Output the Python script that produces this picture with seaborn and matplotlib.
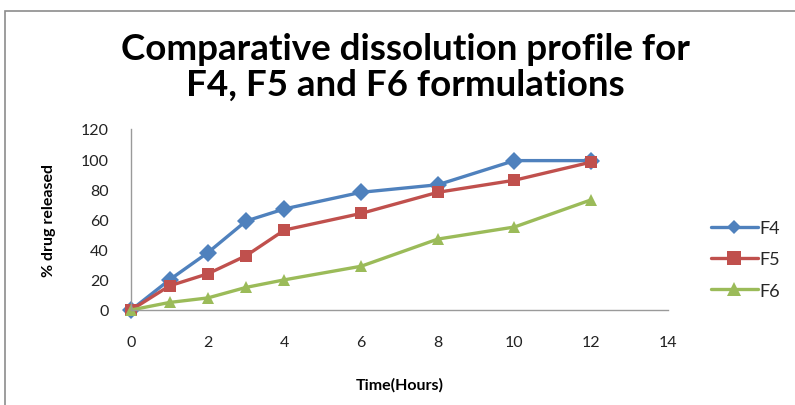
import matplotlib
matplotlib.use("Agg")
import matplotlib.pyplot as plt
import numpy as np
import pandas as pd
import seaborn as sns
from matplotlib.patches import Rectangle

# Dane
time_hours = [0, 1, 2, 3, 4, 6, 8, 10, 12]
f4_release = [0, 20, 38, 59, 67, 78, 83, 99, 99]
f5_release = [0, 16, 24, 36, 53, 64, 78, 86, 98]
f6_release = [0, 5, 8, 15, 20, 29, 47, 55, 73]
formulations = ["F4", "F5", "F6"]

data = pd.DataFrame({
    "time": time_hours * 3,
    "release": f4_release + f5_release + f6_release,
    "formulation": np.repeat(formulations, len(time_hours)),
})

sns.set_theme(style="white")
plt.rcParams['font.family'] = ['Lato', 'DejaVu Sans']

fig = plt.figure(figsize=(7.95, 4.06), dpi=100)
ax = fig.add_axes([0.165, 0.234, 0.675, 0.446])

palette = {"F4": "#4F81BD", "F5": "#C0504D", "F6": "#9BBB59"}
markers = {"F4": "D", "F5": "s", "F6": "^"}
sizes = {"F4": 7.5, "F5": 10, "F6": 10}

sns.lineplot(data=data, x="time", y="release", hue="formulation", style="formulation",
             palette=palette, markers=markers, dashes=False, linewidth=2.4,
             markersize=9, markeredgewidth=0, ax=ax)

# Dopasowanie rozmiarów markerów
for line in ax.get_lines():
    lbl = line.get_label()
    if lbl in sizes:
        line.set_markersize(sizes[lbl])
    line.set_clip_on(False)

ax.set_xlim(0, 14)
ax.set_ylim(0, 120)
ax.set_xticks(range(0, 15, 2))
ax.set_yticks(range(0, 121, 20))
ax.tick_params(axis='x', labelsize=11.5, length=0, pad=18, colors="#222222")
ax.tick_params(axis='y', labelsize=11.5, length=0, pad=16, colors="#222222")
for side in ['top', 'right']:
    ax.spines[side].set_visible(False)
for side in ['left', 'bottom']:
    ax.spines[side].set_color("#9a9a9a")
    ax.spines[side].set_linewidth(1.0)

ax.set_xlabel("Time(Hours)", fontsize=11.5, fontweight='bold', labelpad=20, color="black")
ax.set_ylabel("% drug released", fontsize=11.5, fontweight='bold', labelpad=18, color="black")

handles, labels = ax.get_legend_handles_labels()
for h in handles:
    lbl = h.get_label()
    if lbl in sizes:
        h.set_markersize(sizes[lbl])
ax.legend(handles, labels, loc='center left', bbox_to_anchor=(1.05, 0.28), frameon=False,
          fontsize=13, handlelength=2.6, labelspacing=0.85, handletextpad=0.1)

fig.text(0.51, 0.835, "Comparative dissolution profile for\nF4, F5 and F6 formulations",
         ha='center', va='center', fontsize=26.5, fontweight='bold', linespacing=1.1,
         color="black")

# Ramka wokół wykresu
fig.patches.append(Rectangle((0.006, -0.05), 1.2, 1.02, transform=fig.transFigure,
                             fill=False, edgecolor="#8c8c8c", linewidth=1.2))

fig.savefig("out.png", dpi=100)
